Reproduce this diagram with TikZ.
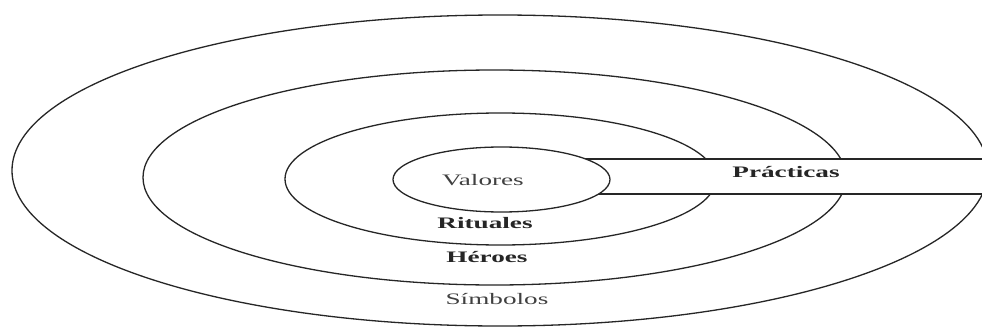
\documentclass[tikz,border=0pt]{standalone}
\usepackage{fontspec}
\setmainfont{Liberation Serif}
\newcommand\widetxt[1]{\scalebox{1.7}[1]{#1}}
\begin{document}
\begin{tikzpicture}[x=1pt,y=-1pt,
  ring/.style={line width=1.3pt, draw=black!85},
  lbl/.style={inner sep=0pt, font=\fontsize{16}{18}\selectfont\bfseries, text=black!85},
  lbllight/.style={inner sep=0pt, font=\fontsize{16}{18}\selectfont, text=black!75}]
\useasboundingbox (0,0) rectangle (982,329);
\clip (0,0) rectangle (982,329);
\fill[white] (0,0) rectangle (982,329);
\draw[ring] (500,170.5) ellipse [x radius=488, y radius=155.5];
\draw[ring] (494.5,177.5) ellipse [x radius=351.5, y radius=107.5];
\draw[ring] (500.5,179) ellipse [x radius=215.5, y radius=66];
\draw[ring, fill=white] (560,159) rectangle (1000,194);
\draw[ring, fill=white] (501.5,179.5) ellipse [x radius=108.5, y radius=32.5];
\node[lbllight] (valores) at (483,180) {\widetxt{Valores}};
\node[lbl] (practicas) at (786,172) {\widetxt{Prácticas}};
\node[lbl] (rituales) at (485,223) {\widetxt{Rituales}};
\node[lbl] (heroes) at (487,257) {\widetxt{Héroes}};
\node[lbllight] (simbolos) at (497,299) {\widetxt{Símbolos}};
\end{tikzpicture}
\end{document}
